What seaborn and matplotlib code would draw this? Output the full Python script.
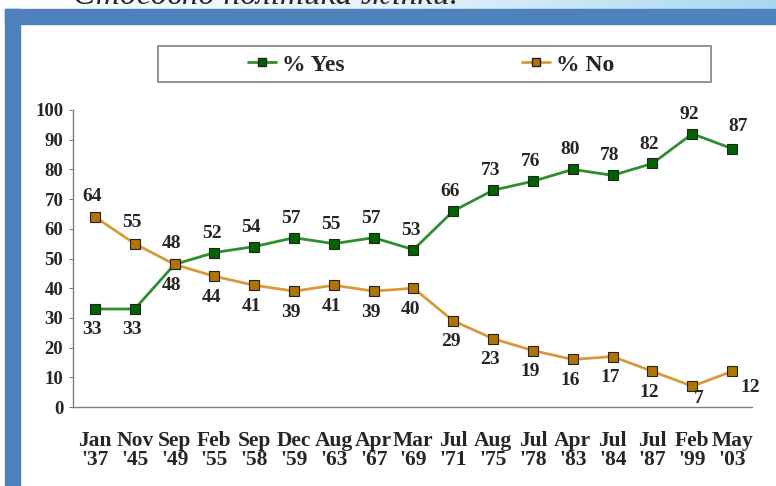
import numpy as np
import pandas as pd
import matplotlib
matplotlib.use("Agg")
import matplotlib.pyplot as plt
from matplotlib.patches import Rectangle
from matplotlib.lines import Line2D
from matplotlib.colors import LinearSegmentedColormap
import seaborn as sns

# Gallup: would you vote for a woman for president
months = ["Jan", "Nov", "Sep", "Feb", "Sep", "Dec", "Aug", "Apr", "Mar",
          "Jul", "Aug", "Jul", "Apr", "Jul", "Jul", "Feb", "May"]
years = ["'37", "'45", "'49", "'55", "'58", "'59", "'63", "'67", "'69",
         "'71", "'75", "'78", "'83", "'84", "'87", "'99", "'03"]
yes_pct = [33, 33, 48, 52, 54, 57, 55, 57, 53, 66, 73, 76, 80, 78, 82, 92, 87]
no_pct = [64, 55, 48, 44, 41, 39, 41, 39, 40, 29, 23, 19, 16, 17, 12, 7, 12]
series_names = ["% Yes", "% No"]
title_text = "Стосовно політика жінки."

W, H = 776, 486
BLUE = "#4f81bd"
YES_LINE, YES_FACE = "#2f8f2f", "#006400"
NO_LINE, NO_FACE = "#d9993a", "#b07400"
AXIS_GREY = "#808080"

sns.set_style("white")
plt.rcParams["font.family"] = ["Liberation Serif", "DejaVu Serif"]

fig = plt.figure(figsize=(W / 100, H / 100), dpi=100)

# slide decoration: gradient strip with clipped title, blue frame
band = fig.add_axes([0, 1 - 9 / H, 1, 9 / H])
cmap = LinearSegmentedColormap.from_list("band", ["#ffffff", "#e6f3fa", "#a8d8f0"])
band.imshow(np.linspace(0, 1, 256)[None, :], aspect="auto", cmap=cmap, extent=[0, 1, 0, 1])
band.axis("off")
fig.text(73 / W, 1 - 4 / H, title_text, fontsize=24, style="italic",
         va="baseline", ha="left", zorder=3)
fig.add_artist(Rectangle((5 / W, 1 - 24 / H), 1 - 5 / W, 15 / H,
                         transform=fig.transFigure, color=BLUE, zorder=5))
fig.add_artist(Rectangle((5 / W, 0), 15 / W, 1 - 9 / H,
                         transform=fig.transFigure, color=BLUE, zorder=5))

n = len(months)
df = pd.DataFrame({
    "pos": np.tile(np.arange(n), 2),
    "pct": yes_pct + no_pct,
    "series": np.repeat(series_names, n),
})

ax = fig.add_axes([73 / W, 79 / H, 679 / W, 297 / H])
sns.lineplot(data=df, x="pos", y="pct", hue="series", palette=[YES_LINE, NO_LINE],
             marker="s", markersize=7, markeredgecolor="#222222", markeredgewidth=0.8,
             linewidth=2, ax=ax, legend=False)
for line, face in zip(ax.lines, [YES_FACE, NO_FACE]):
    line.set_markerfacecolor(face)

# value labels
lab = dict(fontsize=14, fontweight="bold", ha="center", va="center",
           textcoords="offset points")
for i, v in enumerate(yes_pct):
    off = (-2, -15) if i < 3 else (-2, 14)
    if i == n - 1:
        off = (4, 16)
    ax.annotate(str(v), (i, v), xytext=off, **lab)
for i, v in enumerate(no_pct):
    off = (-2, 15) if i < 3 else (-2, -15)
    if i == n - 2:
        off = (5, -9)
    if i == n - 1:
        off = (13, -11.5)
    ax.annotate(str(v), (i, v), xytext=off, **lab)

ax.set_xlim(-0.55, n - 0.5)
ax.set_ylim(0, 100)
ax.set_xlabel("")
ax.set_ylabel("")
ax.set_xticks(range(n))
ax.set_xticklabels([f"{m}\n{y}" for m, y in zip(months, years)],
                   fontsize=15.5, fontweight="bold", linespacing=0.95)
ax.set_xticks(np.arange(0.5, n, 1), minor=True)
ax.set_yticks(range(0, 101, 10))
ax.set_yticklabels([str(t) for t in range(0, 101, 10)], fontsize=13.5, fontweight="bold")
ax.tick_params(axis="x", which="major", length=0, pad=17)
ax.tick_params(axis="x", which="minor", direction="in", length=3, color=AXIS_GREY)
ax.tick_params(axis="y", direction="out", length=3, pad=4, color=AXIS_GREY, left=True)
sns.despine(ax=ax)
for s in ["left", "bottom"]:
    ax.spines[s].set_color(AXIS_GREY)
    ax.spines[s].set_linewidth(1)

# legend with its own box
fig.add_artist(Rectangle((158 / W, 1 - 82 / H), 553 / W, 36 / H, fill=False,
                         edgecolor=AXIS_GREY, linewidth=1.2, transform=fig.transFigure))
handles = [
    Line2D([], [], color=YES_LINE, lw=2, marker="s", markersize=6,
           markerfacecolor=YES_FACE, markeredgecolor="#222222"),
    Line2D([], [], color=NO_LINE, lw=2, marker="s", markersize=6,
           markerfacecolor=NO_FACE, markeredgecolor="#222222"),
]
fig.legend(handles, series_names, loc="center", bbox_to_anchor=(431 / W, 1 - 65 / H),
           ncol=2, frameon=False, prop={"size": 17, "weight": "bold"},
           handlelength=1.2, handletextpad=0.25, columnspacing=7.5)

fig.savefig("out.png", dpi=100, facecolor="white")
